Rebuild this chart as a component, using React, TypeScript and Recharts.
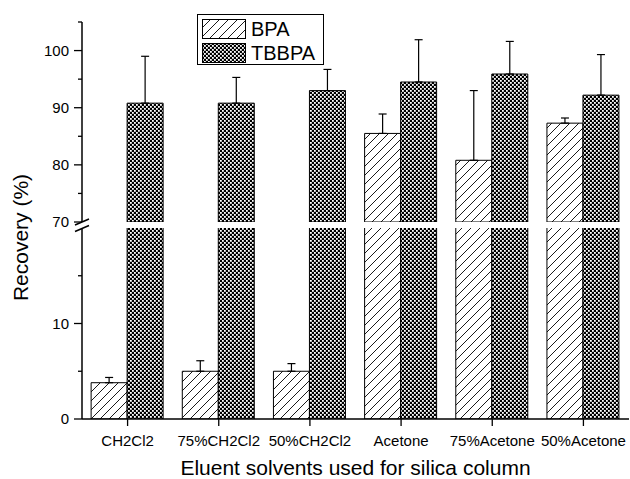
import { BarChart, Bar, XAxis, YAxis, ErrorBar, Legend } from 'recharts';

const categories = ['CH2Cl2', '75%CH2Cl2', '50%CH2Cl2', 'Acetone', '75%Acetone', '50%Acetone'];
const bpa = [3.8, 5.0, 5.0, 85.5, 80.8, 87.3];
const bpaErr = [0.55, 1.1, 0.8, 3.4, 12.2, 0.9];
const tbbpa = [90.8, 90.8, 93.0, 94.5, 95.9, 92.2];
const tbbpaErr = [8.2, 4.5, 3.7, 7.4, 5.7, 7.1];

const lowTicks = [0, 5, 10, 15];
const highTicks = [70, 75, 80, 85, 90, 95, 100, 105];
const LOW_MAX = 20;
const HIGH_MIN = 70;

const FONT = 'Arial, "Liberation Sans", sans-serif';

// each segment of the broken axis gets its own copy of the data
const lowData = categories.map((name, i) => ({
  name,
  bpa: bpa[i],
  bpaErr: bpa[i] <= LOW_MAX ? [0, bpaErr[i]] : null,
  tbbpa: tbbpa[i],
  tbbpaErr: tbbpa[i] <= LOW_MAX ? [0, tbbpaErr[i]] : null,
}));

const highData = categories.map((name, i) => ({
  name,
  bpa: bpa[i] >= HIGH_MIN ? bpa[i] : null,
  bpaErr: bpa[i] >= HIGH_MIN ? [0, bpaErr[i]] : null,
  tbbpa: tbbpa[i] >= HIGH_MIN ? tbbpa[i] : null,
  tbbpaErr: tbbpa[i] >= HIGH_MIN ? [0, tbbpaErr[i]] : null,
}));

const series = [
  { key: 'bpa', err: 'bpaErr', name: 'BPA', fill: 'url(#hatch)' },
  { key: 'tbbpa', err: 'tbbpaErr', name: 'TBBPA', fill: 'url(#mesh)' },
];

const YTick = (props: any) => {
  const { x, y, payload } = props;
  const major = payload.value % 10 === 0;
  const len = major ? 8 : 4;
  return (
    <g>
      <line x1={x - len} x2={x} y1={y} y2={y} stroke="#000" strokeWidth={1.3} />
      {major && (
        <text x={x - 13} y={y} dy="0.36em" textAnchor="end" fontSize={15} fontFamily={FONT} fill="#000">
          {payload.value}
        </text>
      )}
    </g>
  );
};

const MinorXTick = (props: any) => {
  const { x, y, payload } = props;
  const len = payload.value === 0 ? 7 : 4;
  return <line x1={x} x2={x} y1={y} y2={y + len} stroke="#000" strokeWidth={1.3} />;
};

const LegendBox = () => (
  <div
    style={{
      border: '1px solid #000',
      background: '#fff',
      width: 127,
      height: 51,
      boxSizing: 'border-box',
      padding: '2px 0 0 4px',
      fontFamily: FONT,
    }}
  >
    {series.map((s) => (
      <div key={s.key} style={{ display: 'flex', alignItems: 'center', height: 24 }}>
        <svg width={44} height={20}>
          <rect x={0.5} y={0.5} width={43} height={19} fill={s.fill} stroke="#000" />
        </svg>
        <span style={{ fontSize: 20, marginLeft: 5, lineHeight: '20px' }}>{s.name}</span>
      </div>
    ))}
  </div>
);

const renderBars = () =>
  series.map((s) => (
    <Bar
      key={s.key}
      xAxisId="cat"
      dataKey={s.key}
      name={s.name}
      fill={s.fill}
      stroke="#000"
      strokeWidth={1}
      isAnimationActive={false}
    >
      <ErrorBar dataKey={s.err} direction="y" width={4} stroke="#000" strokeWidth={1.2} />
    </Bar>
  ));

export default function App() {
  return (
    <div style={{ position: 'absolute', left: 0, top: 0, width: 630, height: 479, background: '#fff', fontFamily: FONT }}>
      <svg width={0} height={0} style={{ position: 'absolute' }}>
        <defs>
          <pattern id="hatch" patternUnits="userSpaceOnUse" width={9} height={9}>
            <rect width={9} height={9} fill="#fff" />
            <path d="M0,9 L9,0 M-2,2 L2,-2 M7,11 L11,7" stroke="#000" strokeWidth={0.9} />
          </pattern>
          <pattern id="mesh" patternUnits="userSpaceOnUse" width={4} height={4}>
            <rect width={4} height={4} fill="#000" />
            <rect x={0} y={0} width={1.8} height={1.8} fill="#fff" />
            <rect x={2} y={2} width={1.8} height={1.8} fill="#fff" />
          </pattern>
        </defs>
      </svg>

      {/* lower segment: 0-20 */}
      <div style={{ position: 'absolute', left: 0, top: 222 }}>
        <BarChart
          width={630}
          height={257}
          data={lowData}
          margin={{ top: 6, right: 1, bottom: 0, left: 0 }}
          barCategoryGap="10%"
          barGap={0}
        >
          <XAxis
            xAxisId="minor"
            type="number"
            domain={[0, categories.length]}
            ticks={[0, 1, 2, 3, 4, 5, 6]}
            height={0}
            axisLine={false}
            tickLine={false}
            tickSize={0}
            tickMargin={0}
            tick={<MinorXTick />}
            interval={0}
          />
          <XAxis
            xAxisId="cat"
            dataKey="name"
            height={60}
            tickSize={7}
            tickMargin={9}
            interval={0}
            axisLine={{ stroke: '#000', strokeWidth: 1.5 }}
            tickLine={{ stroke: '#000', strokeWidth: 1.3 }}
            tick={{ fill: '#000', fontSize: 15, fontFamily: FONT }}
            label={{
              value: 'Eluent solvents used for silica column',
              position: 'insideBottom',
              offset: 4,
              fill: '#000',
              fontSize: 21,
              fontFamily: FONT,
            }}
          />
          <YAxis
            type="number"
            domain={[0, LOW_MAX]}
            ticks={lowTicks}
            allowDataOverflow
            width={82}
            tickSize={0}
            tickMargin={0}
            tickLine={false}
            tick={<YTick />}
            axisLine={{ stroke: '#000', strokeWidth: 1.5 }}
            interval={0}
          />
          {renderBars()}
        </BarChart>
      </div>

      {/* upper segment: 70-105 */}
      <div style={{ position: 'absolute', left: 0, top: 0 }}>
        <BarChart
          width={630}
          height={232}
          data={highData}
          margin={{ top: 22, right: 1, bottom: 10, left: 0 }}
          barCategoryGap="10%"
          barGap={0}
          baseValue={0}
        >
          <XAxis xAxisId="cat" dataKey="name" hide />
          <YAxis
            type="number"
            domain={[HIGH_MIN, 105]}
            ticks={highTicks}
            allowDataOverflow
            width={82}
            tickSize={0}
            tickMargin={0}
            tickLine={false}
            tick={<YTick />}
            axisLine={{ stroke: '#000', strokeWidth: 1.5 }}
            interval={0}
          />
          {renderBars()}
          <Legend
            verticalAlign="middle"
            align="center"
            content={<LegendBox />}
            wrapperStyle={{ left: 197, top: 14, width: 127, height: 51 }}
          />
        </BarChart>
      </div>

      {/* y title and axis break marks */}
      <svg width={630} height={479} style={{ position: 'absolute', left: 0, top: 0, pointerEvents: 'none' }}>
        <text
          x={28}
          y={237.5}
          transform="rotate(-90, 28, 237.5)"
          textAnchor="middle"
          fontSize={21}
          fontFamily={FONT}
          fill="#000"
        >
          Recovery (%)
        </text>
        <line x1={75} y1={225} x2={89} y2={219} stroke="#000" strokeWidth={1.5} />
        <line x1={75} y1={231.5} x2={89} y2={225.5} stroke="#000" strokeWidth={1.5} />
      </svg>
    </div>
  );
}
